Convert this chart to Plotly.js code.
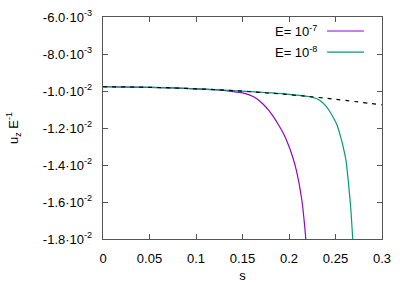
<!DOCTYPE html>
<html>
<head>
<meta charset="utf-8">
<script src="https://cdn.plot.ly/plotly-3.0.1.min.js"></script>
<style>html,body{margin:0;padding:0;background:#fff;}#chart{width:407px;height:285px;}</style>
</head>
<body>
<div id="chart"></div>
<script>
// asymptotic (dashed) curve
var sAsym = [0, 0.05, 0.1, 0.15, 0.2, 0.25, 0.3];
var uAsym = [-9.77e-3, -9.80e-3, -9.88e-3, -10.01e-3, -10.20e-3, -10.45e-3, -10.75e-3];

// E = 1e-7
var sE7 = [0, 0.05, 0.1, 0.12, 0.14, 0.15, 0.158, 0.165, 0.172, 0.178, 0.183, 0.189, 0.194, 0.198, 0.203, 0.208, 0.2137, 0.218, 0.2195];
var uE7 = [-9.77e-3, -9.80e-3, -9.88e-3, -9.93e-3, -10.03e-3, -10.10e-3, -10.22e-3, -10.40e-3, -10.70e-3, -11.03e-3, -11.37e-3, -11.85e-3, -12.30e-3, -12.74e-3, -13.42e-3, -14.30e-3, -15.85e-3, -17.95e-3, -19.0e-3];

// E = 1e-8
var sE8 = [0, 0.05, 0.1, 0.15, 0.2, 0.2226, 0.23, 0.235, 0.24, 0.244, 0.2513, 0.2567, 0.259, 0.2613, 0.2638, 0.2665, 0.2685, 0.2695];
var uE8 = [-9.77e-3, -9.80e-3, -9.88e-3, -10.01e-3, -10.18e-3, -10.31e-3, -10.42e-3, -10.58e-3, -10.83e-3, -11.12e-3, -11.80e-3, -12.70e-3, -13.19e-3, -13.76e-3, -14.90e-3, -16.40e-3, -18.0e-3, -19.0e-3];

var seriesNames = ['E= 10<sup>-7</sup>', 'E= 10<sup>-8</sup>'];
var seriesColors = ['#9400d3', '#009e73'];

var xTickVals = [0, 0.05, 0.1, 0.15, 0.2, 0.25, 0.3];
var xTickText = ['0', '0.05', '0.1', '0.15', '0.2', '0.25', '0.3'];
var yTickVals = [-6e-3, -8e-3, -10e-3, -12e-3, -14e-3, -16e-3, -18e-3];
var yTickText = ['-6.0·10<sup>-3</sup>', '-8.0·10<sup>-3</sup>', '-1.0·10<sup>-2</sup>', '-1.2·10<sup>-2</sup>', '-1.4·10<sup>-2</sup>', '-1.6·10<sup>-2</sup>', '-1.8·10<sup>-2</sup>'];
var pad = '\u00a0\u00a0';

var font = {family: 'Liberation Sans, Arial, sans-serif', size: 13, color: '#000'};

var traces = [
  {x: sE7, y: uE7, mode: 'lines', line: {color: seriesColors[0], width: 1.2, shape: 'spline', smoothing: 0.6}, showlegend: false, hoverinfo: 'none'},
  {x: sE8, y: uE8, mode: 'lines', line: {color: seriesColors[1], width: 1.2, shape: 'spline', smoothing: 0.6}, showlegend: false, hoverinfo: 'none'},
  {x: sAsym, y: uAsym, mode: 'lines', line: {color: '#000', width: 1.2, dash: '4px,5px', shape: 'spline'}, showlegend: false, hoverinfo: 'none'}
];

var legendY = [0.937, 0.842];
var annotations = [];
var shapes = [];
for (var i = 0; i < seriesNames.length; i++) {
  annotations.push({xref: 'paper', yref: 'paper', x: 0.775, y: legendY[i], xanchor: 'right', yanchor: 'middle', text: seriesNames[i], showarrow: false, font: font});
  shapes.push({type: 'line', xref: 'paper', yref: 'paper', x0: 0.803, x1: 0.9355, y0: legendY[i], y1: legendY[i], line: {color: seriesColors[i], width: 1.2}});
}

var axisCommon = {
  showgrid: false, zeroline: false, showline: true, linecolor: '#555', linewidth: 1,
  mirror: 'ticks', ticks: 'inside', ticklen: 5, tickcolor: '#555', tickwidth: 1,
  tickfont: font, tickmode: 'array'
};

var layout = {
  width: 407, height: 285,
  margin: {l: 103, r: 25, t: 17, b: 46},
  paper_bgcolor: '#fff', plot_bgcolor: '#fff',
  font: font,
  xaxis: Object.assign({}, axisCommon, {
    range: [0, 0.3], tickvals: xTickVals, ticktext: xTickText,
    ticklabelstandoff: 7,
    title: {text: 's', font: font, standoff: 6}
  }),
  yaxis: Object.assign({}, axisCommon, {
    range: [-18e-3, -6e-3], tickvals: yTickVals,
    ticktext: yTickText.map(function (t) { return t + pad; }),
    title: {text: 'u<sub>z</sub> E<sup>-1</sup>', font: font, standoff: 21}
  }),
  annotations: annotations,
  shapes: shapes
};

Plotly.newPlot('chart', traces, layout, {staticPlot: true, displayModeBar: false});
</script>
</body>
</html>
